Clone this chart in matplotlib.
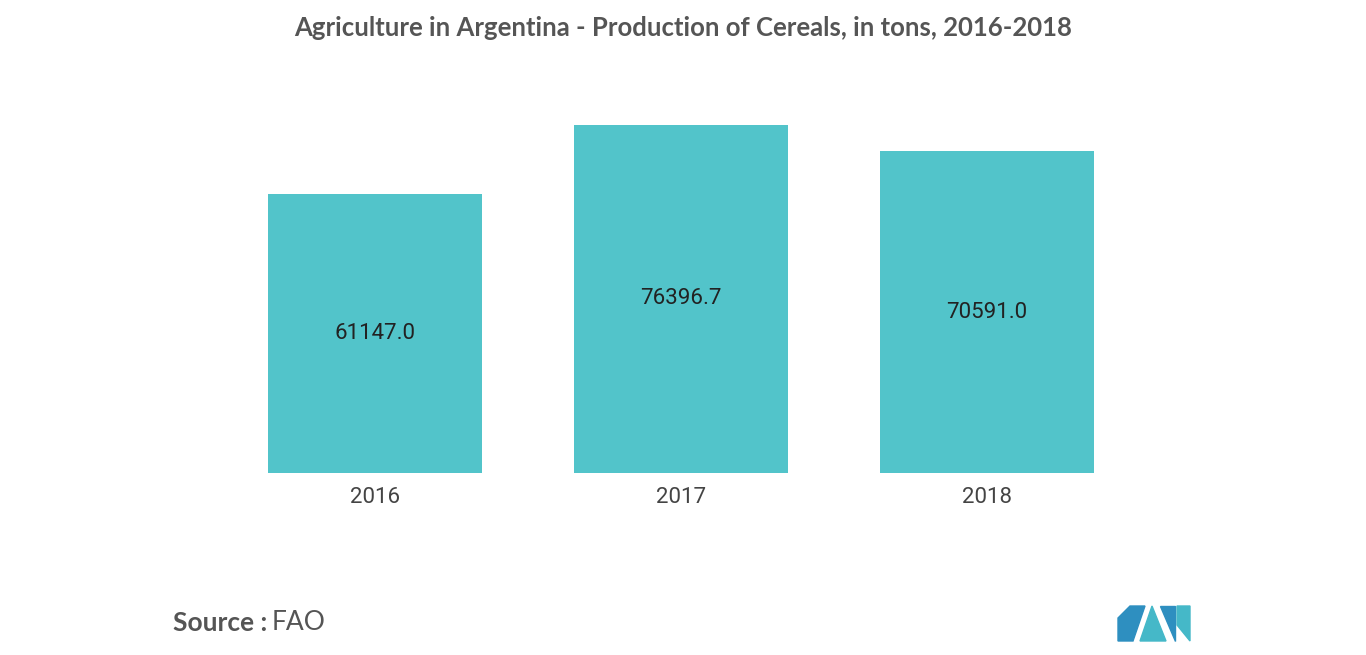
import matplotlib
matplotlib.use("Agg")
import matplotlib.pyplot as plt
from matplotlib.patches import Polygon

years = ["2016", "2017", "2018"]
values = [61147.0, 76396.7, 70591.0]
labels = ["61147.0", "76396.7", "70591.0"]

fig = plt.figure(figsize=(13.66, 6.55), dpi=100)
ax = fig.add_axes([222/1366, 1-473/655, 918/1366, (473-125)/655])
x = range(len(years))
bars = ax.bar(x, values, width=0.7, color="#52C4CA")
for xi, v, l in zip(x, values, labels):
    ax.text(xi, v/2, l, ha="center", va="center", fontsize=16, color="#222222", family="Roboto")
ax.set_xlim(-0.5, 2.5)
ax.set_ylim(0, max(values))
ax.set_xticks(list(x))
ax.set_xticklabels(years, fontsize=16, color="#444444", family="Roboto")
ax.tick_params(axis="x", length=0, pad=10)
ax.set_yticks([])
for s in ax.spines.values():
    s.set_visible(False)

fig.text(0.5, 1-28/655, "Agriculture in Argentina - Production of Cereals, in tons, 2016-2018",
         ha="center", va="center", fontsize=18.5, color="#555555", family="Lato", fontweight="bold")
fig.text(173/1366, 1-623/655, "Source :", ha="left", va="center", fontsize=19, color="#555555",
         family="Lato", fontweight="bold")
fig.text(272/1366, 1-623/655, "FAO", ha="left", va="center", fontsize=19, color="#555555", family="Lato")

def P(pts, c):
    fig.patches.append(Polygon([(px/1366, 1-py/655) for px, py in pts], closed=True,
                               transform=fig.transFigure, color=c))
P([(1118, 641), (1118, 618), (1130, 606), (1145, 606), (1133, 641)], "#2E8FC0")
P([(1140, 641), (1152, 606), (1166, 641)], "#45B8C8")
P([(1160, 606), (1175, 606), (1175, 641)], "#2E8FC0")
P([(1177, 606), (1190, 606), (1190, 641), (1177, 625)], "#45B8C8")

fig.savefig("out.png", dpi=100, facecolor="white")
